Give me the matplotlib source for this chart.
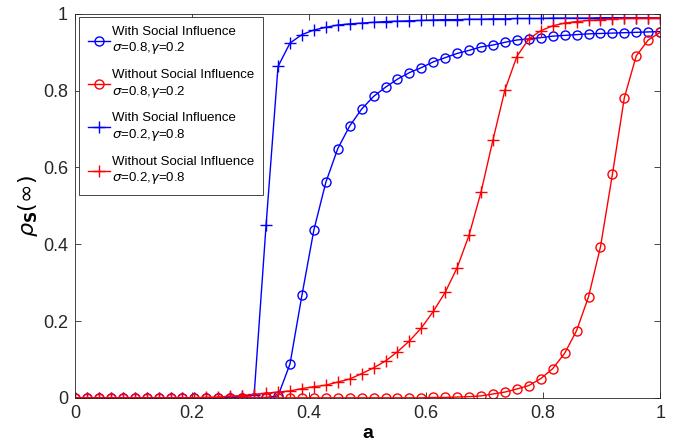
import numpy as np
import matplotlib
matplotlib.use("Agg")
import matplotlib.pyplot as plt
from matplotlib.ticker import FuncFormatter

plt.rcParams['font.family'] = ['Liberation Sans', 'DejaVu Sans']
plt.rcParams['mathtext.fontset'] = 'dejavusans'

# 数据 (50 个点, a 从 0 到 1)
a = np.linspace(0, 1, 50)

with_si_s08 = [0] * 16 + [0.001, 0.005, 0.088, 0.267, 0.437, 0.561, 0.649, 0.708, 0.752, 0.785,
                          0.809, 0.830, 0.847, 0.860, 0.875, 0.886, 0.897, 0.905, 0.914, 0.919,
                          0.926, 0.932, 0.935, 0.938, 0.942, 0.944, 0.946, 0.948, 0.949, 0.950,
                          0.951, 0.952, 0.953, 0.954]
without_si_s08 = [0] * 30 + [0.001, 0.001, 0.002, 0.003, 0.005, 0.010, 0.015, 0.023, 0.032, 0.050,
                             0.076, 0.116, 0.175, 0.263, 0.393, 0.582, 0.782, 0.891, 0.932, 0.952]
with_si_s02 = [0] * 13 + [0.002, 0.004, 0.008, 0.45, 0.863, 0.924, 0.946, 0.958, 0.965, 0.971,
                          0.974, 0.976, 0.978, 0.980, 0.981, 0.982, 0.983, 0.984, 0.985, 0.985,
                          0.986, 0.986, 0.987, 0.987, 0.988, 0.988, 0.988, 0.989, 0.989, 0.989,
                          0.989, 0.990, 0.990, 0.990, 0.990, 0.990, 0.990]
without_si_s02 = [0] * 11 + [0.001, 0.002, 0.004, 0.006, 0.009, 0.012, 0.015, 0.018, 0.024, 0.029,
                             0.033, 0.041, 0.049, 0.063, 0.078, 0.096, 0.120, 0.148, 0.182, 0.225,
                             0.275, 0.339, 0.424, 0.536, 0.672, 0.802, 0.889, 0.935, 0.956, 0.969,
                             0.976, 0.980, 0.983, 0.985, 0.987, 0.988, 0.989, 0.989, 0.990]

labels = ["With Social Influence\n$\\sigma$=0.8,$\\gamma$=0.2",
          "Without Social Influence\n$\\sigma$=0.8,$\\gamma$=0.2",
          "With Social Influence\n$\\sigma$=0.2,$\\gamma$=0.8",
          "Without Social Influence\n$\\sigma$=0.2,$\\gamma$=0.8"]

fig = plt.figure(figsize=(6.82, 4.48), dpi=100)
ax = fig.add_axes([0.110, 0.112, 0.858, 0.857])

ax.plot(a, with_si_s08, 'o-', color='blue', lw=1, ms=6.5, mfc='none', mew=1, label=labels[0])
ax.plot(a, without_si_s08, 'o-', color='red', lw=1, ms=6.5, mfc='none', mew=1, label=labels[1])
ax.plot(a, with_si_s02, '+-', color='blue', lw=1, ms=8, mew=1, label=labels[2])
ax.plot(a, without_si_s02, '+-', color='red', lw=1, ms=8, mew=1, label=labels[3])

ax.set_xlim(0, 1)
ax.set_ylim(0, 1)
ax.set_xticks([0, 0.2, 0.4, 0.6, 0.8, 1])
ax.set_yticks([0, 0.2, 0.4, 0.6, 0.8, 1])
fmt = FuncFormatter(lambda v, p: '%g' % v)
ax.xaxis.set_major_formatter(fmt)
ax.yaxis.set_major_formatter(fmt)
ax.tick_params(direction='in', top=True, right=True, length=4, width=0.6,
               labelsize=13, colors='#262626', pad=5)
for s in ax.spines.values():
    s.set_color('#262626')
    s.set_linewidth(0.6)

ax.set_xlabel('a', fontsize=14, fontweight='bold', labelpad=2)
ax.set_ylabel(r'$\rho_{\mathbf{S}}(\infty)$', fontsize=16, labelpad=2)

leg = ax.legend(loc='upper left', fontsize=9.5, handlelength=1.65, handletextpad=0.12,
                labelspacing=0.98, borderpad=0.7, borderaxespad=0, fancybox=False,
                framealpha=1, edgecolor='#262626', bbox_to_anchor=(0.007, 0.992))
leg.get_frame().set_linewidth(0.6)

fig.savefig('out.png', dpi=100)
